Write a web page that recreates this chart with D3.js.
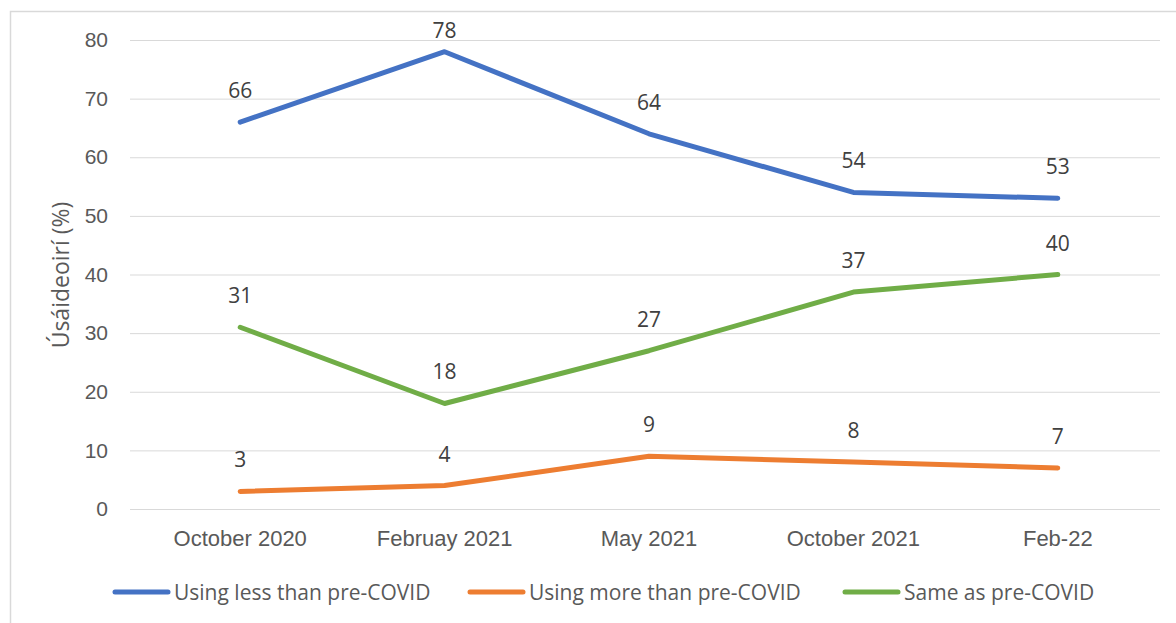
<!DOCTYPE html>
<html>
<head>
<meta charset="utf-8">
<script src="https://cdn.jsdelivr.net/npm/d3@7"></script>
<style>
  body { margin: 0; background: #fff; }
  svg { display: block; font-family: 'Open Sans', sans-serif; }
</style>
</head>
<body>
<div class="chart-container"></div>
<script>
// chart data
const categories = ['October 2020', 'Februay 2021', 'May 2021', 'October 2021', 'Feb-22'];
const lessValues = [66, 78, 64, 54, 53];
const moreValues = [3, 4, 9, 8, 7];
const sameValues = [31, 18, 27, 37, 40];
const seriesNames = ['Using less than pre-COVID', 'Using more than pre-COVID', 'Same as pre-COVID'];
const yTicks = [0, 10, 20, 30, 40, 50, 60, 70, 80];

const series = [
    { name: seriesNames[0], color: '#4472C4', values: lessValues },
    { name: seriesNames[1], color: '#ED7D31', values: moreValues },
    { name: seriesNames[2], color: '#70AD47', values: sameValues }
];

const W = 1176, H = 623;
const margin = { top: 40, right: 16, bottom: 114, left: 138 };
const width = W - margin.left - margin.right;
const height = H - margin.top - margin.bottom;

const svg = d3.select('.chart-container')
    .append('svg')
    .attr('width', W)
    .attr('height', H);

// outer chart border
svg.append('rect')
    .attr('x', 10.5).attr('y', 11.5)
    .attr('width', W + 20).attr('height', H + 20)
    .attr('fill', 'none')
    .attr('stroke', '#d9d9d9')
    .attr('stroke-width', 1.5);

const g = svg.append('g')
    .attr('transform', `translate(${margin.left}, ${margin.top})`);

// scales
const xScale = d3.scaleBand()
    .domain(categories)
    .range([0, width]);

const yScale = d3.scaleLinear()
    .domain([0, 80])
    .range([height, 0]);

// y axis with gridlines
const yAxis = d3.axisLeft(yScale)
    .tickValues(yTicks)
    .tickSizeInner(-width - 8)
    .tickSizeOuter(0)
    .tickPadding(22);

const yAxisDraw = g.append('g')
    .attr('class', 'y axis')
    .attr('transform', 'translate(-8, 0)')
    .call(yAxis);

yAxisDraw.select('.domain').remove();
yAxisDraw.selectAll('line').attr('stroke', '#d9d9d9').attr('stroke-width', 1);
yAxisDraw.selectAll('text')
    .attr('fill', '#595959')
    .style('font-size', '21px');

// x axis labels
const xAxis = d3.axisBottom(xScale).tickSize(0).tickPadding(21);
const xAxisDraw = g.append('g')
    .attr('class', 'x axis')
    .attr('transform', `translate(0, ${height})`)
    .call(xAxis);
xAxisDraw.select('.domain').remove();
xAxisDraw.selectAll('text')
    .attr('fill', '#595959')
    .style('font-size', '22px');

// axis title
g.append('text')
    .attr('transform', `translate(${60 - margin.left}, ${275 - margin.top}) rotate(-90)`)
    .attr('text-anchor', 'middle')
    .attr('dominant-baseline', 'central')
    .attr('fill', '#595959')
    .style('font-size', '23px')
    .text('Úsáideoirí (%)');

// lines
const lineGen = d3.line()
    .x((d, i) => xScale(categories[i]) + xScale.bandwidth() / 2)
    .y(d => yScale(d));

g.selectAll('.line-series')
    .data(series)
    .enter()
    .append('path')
    .attr('class', 'line-series')
    .attr('d', d => lineGen(d.values))
    .attr('fill', 'none')
    .attr('stroke', d => d.color)
    .attr('stroke-width', 5)
    .attr('stroke-linejoin', 'round')
    .attr('stroke-linecap', 'round');

// data labels
series.forEach(s => {
    g.selectAll(null)
        .data(s.values)
        .enter()
        .append('text')
        .attr('x', (d, i) => xScale(categories[i]) + xScale.bandwidth() / 2)
        .attr('y', d => Math.max(yScale(d) - 32, -10))
        .attr('text-anchor', 'middle')
        .attr('dominant-baseline', 'central')
        .attr('fill', '#404040')
        .style('font-size', '21px')
        .text(d => d);
});

// legend
const legendX = [115, 470, 845];
const legend = svg.append('g')
    .attr('transform', 'translate(0, 592)');

const items = legend.selectAll('.legend-item')
    .data(series)
    .enter()
    .append('g')
    .attr('transform', (d, i) => `translate(${legendX[i]}, 0)`);

items.append('line')
    .attr('x1', 0).attr('x2', 53)
    .attr('y1', 0).attr('y2', 0)
    .attr('stroke', d => d.color)
    .attr('stroke-width', 5)
    .attr('stroke-linecap', 'round');

items.append('text')
    .attr('x', 59)
    .attr('dominant-baseline', 'central')
    .attr('fill', '#595959')
    .style('font-size', '21px')
    .text(d => d.name);
</script>
</body>
</html>
